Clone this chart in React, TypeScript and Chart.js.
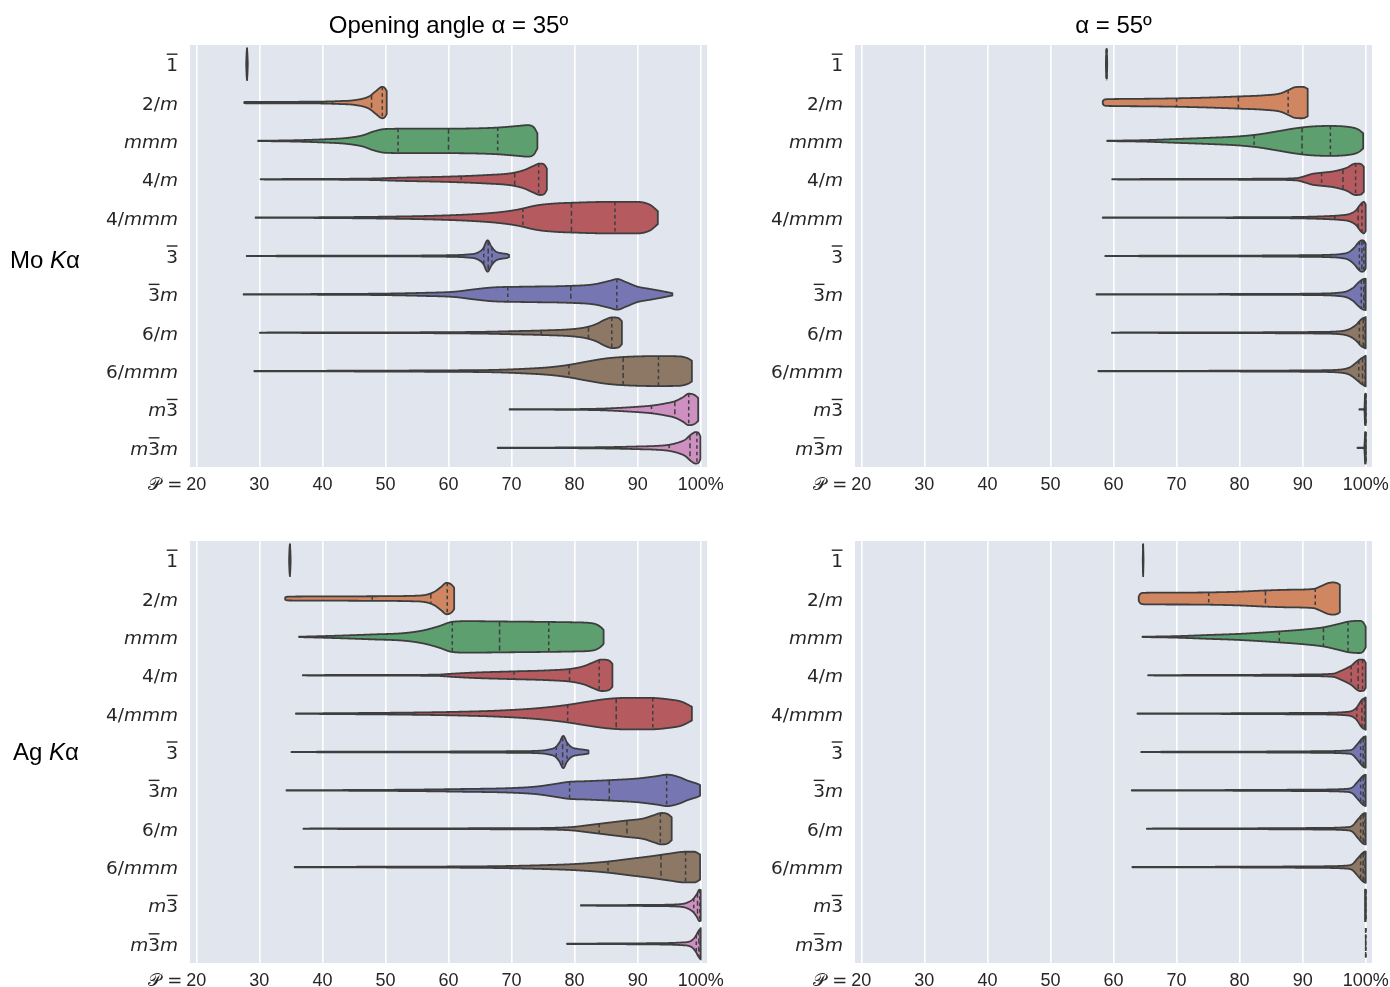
import React, { useEffect, useRef } from "react";
import { Chart, registerables } from "chart.js";

Chart.register(...registerables);

// ---------- data ----------
const CATEGORIES = ["1\u0305", "2/m", "mmm", "4/m", "4/mmm", "3\u0305", "3\u0305m", "6/m", "6/mmm", "m3\u0305", "m3\u0305m"];
const X_TICKS = [20, 30, 40, 50, 60, 70, 80, 90, 100];
const X_TICK_LABELS = ["20", "30", "40", "50", "60", "70", "80", "90", "100%"];
const X_PREFIX = "\u{1D4AB} =";
const X_MIN = 19;
const X_MAX = 101;
const COLUMN_TITLES = ["Opening angle \u03b1 = 35\u00ba", "\u03b1 = 55\u00ba"];
const ROW_LABELS = [["Mo ", "K", "\u03b1"], ["Ag ", "K", "\u03b1"]];

const FILLS = [
  "rgb(88,117,163)", "rgb(207,134,97)", "rgb(93,159,110)", "rgb(181,91,96)", "rgb(181,91,96)",
  "rgb(118,119,178)", "rgb(118,119,178)", "rgb(141,119,101)", "rgb(141,119,101)",
  "rgb(206,143,193)", "rgb(206,143,193)",
];

// violin outlines: [P value, half width in category units]
const MO35_PROFILES = [
  [[27.92, 0.05], [27.98, 0.3], [28.04, 0.42], [28.1, 0.3], [28.16, 0.05]],
  [[27.6, 0.01], [27.8, 0.02], [30, 0.02], [35, 0.02], [40, 0.025], [43, 0.04], [45, 0.06], [47.4, 0.16], [48.5, 0.3], [49.5, 0.41], [49.9, 0.38], [50.2, 0.3]],
  [[29.8, 0.005], [35, 0.015], [40, 0.04], [44, 0.08], [46.5, 0.15], [48, 0.24], [50, 0.31], [55, 0.32], [60, 0.32], [65, 0.33], [68, 0.35], [71, 0.39], [72.5, 0.41], [73.5, 0.36], [74.1, 0.2]],
  [[30.2, 0.005], [40, 0.01], [48, 0.02], [52, 0.04], [60, 0.07], [66, 0.11], [70, 0.16], [72, 0.24], [73.5, 0.35], [74.5, 0.41], [75.2, 0.38], [75.6, 0.28]],
  [[29.4, 0.005], [40, 0.01], [50, 0.025], [58, 0.05], [64, 0.09], [68, 0.14], [71, 0.21], [74, 0.32], [77, 0.37], [80, 0.39], [85, 0.41], [90, 0.41], [92, 0.33], [93.2, 0.17]],
  [[28.0, 0.005], [50, 0.01], [60, 0.02], [63, 0.04], [64.5, 0.08], [65.5, 0.2], [66.2, 0.41], [66.8, 0.25], [67.5, 0.12], [68.5, 0.07], [69.3, 0.05], [69.6, 0.03]],
  [[27.5, 0.005], [40, 0.01], [50, 0.02], [56, 0.04], [61, 0.07], [64, 0.13], [67, 0.18], [72, 0.2], [79, 0.22], [83, 0.26], [85.5, 0.35], [86.8, 0.4], [88, 0.33], [90, 0.2], [92, 0.14], [94, 0.08], [95.5, 0.03]],
  [[30.1, 0.005], [50, 0.01], [60, 0.015], [66, 0.025], [70, 0.04], [75, 0.06], [80, 0.1], [82, 0.15], [83.5, 0.23], [84.8, 0.34], [86, 0.4], [87, 0.38], [87.5, 0.3]],
  [[29.2, 0.005], [45, 0.01], [60, 0.02], [67, 0.03], [72, 0.06], [76, 0.1], [79, 0.16], [82, 0.25], [85, 0.33], [88, 0.37], [93, 0.39], [96.5, 0.385], [98, 0.33], [98.6, 0.27]],
  [[69.7, 0.005], [80, 0.01], [84, 0.02], [87, 0.04], [90, 0.07], [92.2, 0.1], [94.5, 0.16], [96, 0.22], [97.2, 0.32], [98.1, 0.41], [99, 0.38], [99.6, 0.3]],
  [[67.8, 0.005], [80, 0.01], [86, 0.02], [90, 0.035], [93, 0.05], [95, 0.08], [96.5, 0.14], [97.5, 0.21], [98.5, 0.35], [99.2, 0.41], [99.7, 0.38], [99.95, 0.3]],
];
const MO35_QUARTILES = [
  [28.02, 28.04, 28.06], [41.6, 47.8, 49.5], [52.0, 60.0, 67.8], [62.0, 70.5, 74.3], [71.8, 79.5, 86.4], [65.6, 66.3, 66.9],
  [69.4, 79.4, 86.7], [74.7, 82.2, 85.9], [79.1, 87.7, 93.3], [92.2, 95.9, 98.1], [95.0, 98.3, 99.4],
];

const MO55_PROFILES = [
  [[58.8, 0.05], [58.85, 0.3], [58.9, 0.42], [58.95, 0.3], [59.0, 0.05]],
  [[58.3, 0.04], [58.6, 0.08], [59.5, 0.09], [62, 0.095], [66, 0.1], [70, 0.11], [75, 0.13], [80, 0.16], [84, 0.19], [86.5, 0.24], [87.8, 0.33], [88.8, 0.4], [90, 0.41], [90.8, 0.36]],
  [[59.0, 0.005], [65, 0.02], [70, 0.05], [75, 0.08], [80, 0.12], [83, 0.17], [86, 0.25], [88.5, 0.32], [91, 0.37], [94, 0.39], [97, 0.37], [98.8, 0.3], [99.6, 0.2]],
  [[59.8, 0.005], [75, 0.01], [85, 0.015], [89, 0.03], [90.5, 0.09], [91.5, 0.14], [93, 0.17], [95, 0.21], [97, 0.3], [98.4, 0.41], [99.2, 0.4], [99.7, 0.33]],
  [[58.3, 0.005], [80, 0.01], [90, 0.02], [94, 0.04], [96, 0.06], [97.5, 0.1], [98.5, 0.2], [99.2, 0.35], [99.7, 0.41], [100, 0.35]],
  [[58.7, 0.005], [80, 0.01], [90, 0.02], [94, 0.03], [96, 0.05], [97.3, 0.1], [98.2, 0.22], [98.9, 0.36], [99.4, 0.41], [99.8, 0.38], [100, 0.32]],
  [[57.3, 0.005], [80, 0.01], [92, 0.02], [95.5, 0.04], [97, 0.08], [98, 0.17], [98.8, 0.3], [99.5, 0.39], [100, 0.41]],
  [[59.75, 0.005], [80, 0.01], [92, 0.02], [96, 0.04], [97.5, 0.1], [98.5, 0.21], [99.3, 0.35], [100, 0.41]],
  [[57.6, 0.005], [80, 0.01], [92, 0.02], [96, 0.04], [97.5, 0.1], [98.5, 0.22], [99.3, 0.33], [100, 0.4]],
  [[99.0, 0.005], [99.8, 0.005], [99.9, 0.41], [100, 0.41]],
  [[98.7, 0.005], [99.8, 0.005], [99.9, 0.41], [100, 0.41]],
];
const MO55_QUARTILES = [
  [58.88, 58.9, 58.92], [70.0, 79.8, 87.7], [82.3, 89.9, 94.4], [93.0, 96.4, 98.4], [95.1, 98.8, 99.4], [99.0, 99.4, 99.7],
  [99.3, 99.7, 99.9], [99.0, 99.6, 99.9], [98.9, 99.5, 99.9], [100, 100, 100], [100, 100, 100],
];

const AG35_PROFILES = [
  [[34.72, 0.05], [34.78, 0.3], [34.84, 0.42], [34.9, 0.3], [34.96, 0.05]],
  [[34.1, 0.03], [34.5, 0.05], [40, 0.055], [48, 0.06], [54, 0.07], [56.5, 0.1], [57.8, 0.18], [58.8, 0.3], [59.7, 0.41], [60.5, 0.36], [60.9, 0.28]],
  [[36.3, 0.005], [42, 0.03], [48, 0.065], [53, 0.1], [56, 0.17], [58.5, 0.28], [60.5, 0.39], [63, 0.41], [70, 0.4], [76, 0.39], [80, 0.38], [83, 0.35], [84.2, 0.25], [84.6, 0.18]],
  [[36.9, 0.005], [50, 0.01], [58, 0.015], [60.5, 0.04], [64, 0.07], [70, 0.1], [76, 0.13], [79.5, 0.17], [81.5, 0.24], [83, 0.34], [84.3, 0.41], [85.5, 0.38], [86.0, 0.3]],
  [[35.8, 0.005], [45, 0.015], [55, 0.03], [62, 0.05], [68, 0.08], [74, 0.14], [78.5, 0.22], [82, 0.31], [85, 0.38], [88, 0.41], [92, 0.41], [95, 0.37], [97, 0.31], [98.6, 0.18]],
  [[35.1, 0.005], [55, 0.01], [70, 0.02], [74, 0.03], [75.8, 0.06], [77, 0.13], [77.6, 0.25], [78.2, 0.42], [78.8, 0.25], [79.5, 0.13], [80.5, 0.08], [81.5, 0.06], [82.2, 0.04]],
  [[34.3, 0.005], [45, 0.01], [55, 0.02], [62, 0.035], [70, 0.06], [74, 0.1], [77, 0.17], [79, 0.22], [82, 0.24], [86, 0.27], [90, 0.31], [93, 0.37], [94.7, 0.41], [96.5, 0.35], [98, 0.25], [99.5, 0.17], [99.9, 0.14]],
  [[37.0, 0.005], [55, 0.01], [70, 0.015], [77, 0.025], [80, 0.05], [82, 0.09], [84, 0.13], [88, 0.21], [91, 0.27], [92.5, 0.35], [93.8, 0.41], [94.8, 0.38], [95.4, 0.3]],
  [[35.6, 0.005], [50, 0.01], [60, 0.015], [68, 0.025], [75, 0.05], [80, 0.08], [85, 0.14], [89, 0.22], [92, 0.28], [95, 0.35], [97.5, 0.4], [99, 0.4], [99.9, 0.33]],
  [[81.0, 0.005], [92, 0.015], [96.5, 0.03], [97.8, 0.07], [98.8, 0.17], [99.4, 0.3], [99.8, 0.41], [100, 0.4]],
  [[78.8, 0.005], [92, 0.015], [97, 0.035], [98.5, 0.08], [99.2, 0.2], [99.6, 0.32], [100, 0.41]],
];
const AG35_QUARTILES = [
  [34.82, 34.84, 34.86], [47.9, 57.2, 59.8], [60.6, 68.1, 75.9], [70.4, 79.2, 83.9], [78.9, 86.6, 92.4], [77.1, 78.1, 78.8],
  [79.2, 85.5, 94.6], [83.9, 88.3, 93.6], [85.3, 93.7, 97.6], [98.9, 99.5, 99.85], [99.3, 99.7, 99.9],
];

const AG55_PROFILES = [
  [[64.64, 0.05], [64.67, 0.3], [64.7, 0.42], [64.73, 0.3], [64.76, 0.05]],
  [[64.0, 0.06], [64.3, 0.13], [65, 0.15], [70, 0.155], [75, 0.16], [80, 0.18], [84, 0.21], [88, 0.23], [91.7, 0.25], [93, 0.33], [94, 0.4], [94.8, 0.42], [95.5, 0.4], [95.9, 0.36]],
  [[64.6, 0.005], [70, 0.02], [75, 0.05], [80, 0.08], [86, 0.14], [90, 0.19], [93.3, 0.25], [95.5, 0.33], [97.3, 0.4], [99, 0.42], [99.6, 0.38], [100, 0.27]],
  [[65.5, 0.005], [80, 0.01], [90, 0.02], [94.8, 0.04], [96, 0.11], [97.6, 0.24], [99.1, 0.41], [99.7, 0.4], [100, 0.33]],
  [[63.8, 0.005], [80, 0.01], [92, 0.02], [97.3, 0.05], [98.5, 0.15], [99.4, 0.36], [100, 0.42]],
  [[64.4, 0.005], [80, 0.01], [92, 0.02], [97, 0.04], [97.9, 0.07], [98.8, 0.23], [99.6, 0.38], [100, 0.41]],
  [[62.9, 0.005], [80, 0.01], [92, 0.02], [97, 0.04], [97.9, 0.08], [98.8, 0.24], [99.6, 0.38], [100, 0.41]],
  [[65.3, 0.005], [80, 0.01], [92, 0.02], [97, 0.04], [97.9, 0.08], [98.8, 0.25], [99.6, 0.39], [100, 0.41]],
  [[63.0, 0.005], [80, 0.01], [92, 0.02], [97, 0.04], [97.9, 0.08], [98.8, 0.24], [99.6, 0.38], [100, 0.41]],
  [[99.9, 0.41], [100, 0.41]],
  [[100, 0.41]],
];
const AG55_QUARTILES = [
  [64.7, 64.7, 64.7], [75.1, 84.1, 92.0], [86.3, 93.3, 97.2], [97.7, 98.8, 99.5], [98.6, 99.4, 99.8], [99.2, 99.6, 99.9],
  [99.2, 99.6, 99.9], [99.2, 99.6, 99.9], [99.2, 99.6, 99.9], [100, 100, 100], [100, 100, 100],
];

// ---------- styling ----------
const BG = "#e1e5ee";
const OUTLINE = "#3e3e3e";
const TEXT = "#262626";
const SANS = "'Liberation Sans', Arial, Helvetica, sans-serif";
const DEJAVU = "'DejaVu Sans', sans-serif";

type Pt = number[];

function makeInterp(pts: Pt[]) {
  const n = pts.length;
  if (n < 2) return () => (n ? pts[0][1] : 0);
  const xs = pts.map((p) => p[0]);
  const ys = pts.map((p) => p[1]);
  const d: number[] = [];
  for (let i = 0; i < n - 1; i++) d.push((ys[i + 1] - ys[i]) / (xs[i + 1] - xs[i]));
  const m: number[] = new Array(n).fill(0);
  m[0] = d[0];
  m[n - 1] = d[n - 2];
  for (let i = 1; i < n - 1; i++) m[i] = d[i - 1] * d[i] <= 0 ? 0 : (d[i - 1] + d[i]) / 2;
  for (let i = 0; i < n - 1; i++) {
    if (d[i] === 0) { m[i] = 0; m[i + 1] = 0; continue; }
    const a = m[i] / d[i], b = m[i + 1] / d[i];
    const s = a * a + b * b;
    if (s > 9) { const t = 3 / Math.sqrt(s); m[i] = t * a * d[i]; m[i + 1] = t * b * d[i]; }
  }
  return (x: number) => {
    if (x <= xs[0]) return ys[0];
    if (x >= xs[n - 1]) return ys[n - 1];
    let i = 0;
    while (i < n - 2 && x > xs[i + 1]) i++;
    const h = xs[i + 1] - xs[i];
    const t = (x - xs[i]) / h;
    const t2 = t * t, t3 = t2 * t;
    const v = (2 * t3 - 3 * t2 + 1) * ys[i] + (t3 - 2 * t2 + t) * h * m[i] + (-2 * t3 + 3 * t2) * ys[i + 1] + (t3 - t2) * h * m[i + 1];
    return Math.max(v, 0.003);
  };
}

function drawCategoryLabel(ctx: CanvasRenderingContext2D, label: string, xRight: number, yc: number) {
  const size = 18.5;
  const parts: { ch: string; italic: boolean; bar: boolean }[] = [];
  for (let i = 0; i < label.length; i++) {
    const ch = label[i];
    if (ch === "\u0305") continue;
    parts.push({ ch, italic: /[a-z]/.test(ch), bar: label[i + 1] === "\u0305" });
  }
  const widths = parts.map((p) => {
    ctx.font = `${p.italic ? "italic " : ""}${size}px ${DEJAVU}`;
    return ctx.measureText(p.ch).width;
  });
  let x = xRight - widths.reduce((a, b) => a + b, 0);
  const base = yc + 7;
  ctx.fillStyle = TEXT;
  ctx.textAlign = "left";
  ctx.textBaseline = "alphabetic";
  parts.forEach((p, k) => {
    ctx.font = `${p.italic ? "italic " : ""}${size}px ${DEJAVU}`;
    ctx.fillText(p.ch, x, base);
    if (p.bar) {
      ctx.beginPath();
      ctx.strokeStyle = TEXT;
      ctx.lineWidth = 1.4;
      ctx.moveTo(x + 0.5, base - 17);
      ctx.lineTo(x + widths[k] - 0.5, base - 17);
      ctx.stroke();
    }
    x += widths[k];
  });
}

function makeChart(canvas: HTMLCanvasElement, profiles: Pt[][], quartiles: number[][], pad: any, axisH: number) {
  const bgPlugin = {
    id: "bg",
    beforeDraw(chart: any) {
      const { ctx, chartArea: a } = chart;
      ctx.save();
      ctx.fillStyle = BG;
      ctx.fillRect(a.left, a.top, a.right - a.left, a.bottom - a.top);
      ctx.restore();
    },
  };
  const violinPlugin = {
    id: "violins",
    afterDatasetsDraw(chart: any) {
      const { ctx, chartArea: a } = chart;
      const xs = chart.scales.x, ys = chart.scales.y;
      const band = Math.abs(ys.getPixelForValue(1) - ys.getPixelForValue(0));
      ctx.save();
      ctx.beginPath();
      ctx.rect(a.left, a.top, a.right - a.left, a.bottom - a.top);
      ctx.clip();
      profiles.forEach((prof, i) => {
        const yc = ys.getPixelForValue(i);
        const f = makeInterp(prof);
        if (prof.length >= 2) {
          const p0 = xs.getPixelForValue(prof[0][0]);
          const p1 = xs.getPixelForValue(prof[prof.length - 1][0]);
          const px: number[] = [];
          for (let p = p0; p < p1; p += 0.4) px.push(p);
          px.push(p1);
          const hw = px.map((p) => f(xs.getValueForPixel(p)) * band);
          ctx.beginPath();
          px.forEach((p, k) => (k ? ctx.lineTo(p, yc - hw[k]) : ctx.moveTo(p, yc - hw[k])));
          for (let k = px.length - 1; k >= 0; k--) ctx.lineTo(px[k], yc + hw[k]);
          ctx.closePath();
          ctx.fillStyle = FILLS[i];
          ctx.fill();
          ctx.lineWidth = 1.8;
          ctx.lineJoin = "round";
          ctx.strokeStyle = OUTLINE;
          ctx.stroke();
        }
        quartiles[i].forEach((q, k) => {
          const h = f(q) * band;
          const qx = xs.getPixelForValue(q);
          ctx.beginPath();
          ctx.setLineDash(k === 1 ? [5, 3] : [3.5, 3]);
          ctx.lineWidth = 1.5;
          ctx.strokeStyle = OUTLINE;
          ctx.moveTo(qx, yc - h);
          ctx.lineTo(qx, yc + h);
          ctx.stroke();
          ctx.setLineDash([]);
        });
      });
      ctx.restore();
    },
  };
  const labelPlugin = {
    id: "labels",
    afterDraw(chart: any) {
      const { ctx, chartArea: a } = chart;
      const xs = chart.scales.x, ys = chart.scales.y;
      ctx.save();
      CATEGORIES.forEach((c, i) => drawCategoryLabel(ctx, c, a.left - 12, ys.getPixelForValue(i)));
      // prefix of the first x tick label
      ctx.font = `18px ${SANS}`;
      const w20 = ctx.measureText(X_TICK_LABELS[0]).width;
      ctx.textAlign = "right";
      ctx.textBaseline = "middle";
      ctx.fillStyle = TEXT;
      ctx.font = `18px ${DEJAVU}`;
      ctx.fillText(X_PREFIX, xs.getPixelForValue(X_TICKS[0]) - w20 / 2 - 4, a.bottom + 18);
      ctx.restore();
    },
  };

  return new Chart(canvas, {
    type: "scatter",
    data: { datasets: [] },
    options: {
      animation: false,
      responsive: false,
      maintainAspectRatio: false,
      events: [],
      layout: { padding: pad },
      plugins: { legend: { display: false }, tooltip: { enabled: false }, title: { display: false } },
      scales: {
        x: {
          type: "linear",
          min: X_MIN,
          max: X_MAX,
          afterBuildTicks: (s: any) => { s.ticks = X_TICKS.map((v) => ({ value: v })); },
          afterFit: (s: any) => { s.height = axisH; s.paddingLeft = 0; s.paddingRight = 0; },
          grid: { color: "#ffffff", lineWidth: 1.6, drawTicks: false },
          border: { display: false },
          ticks: {
            autoSkip: false,
            maxRotation: 0,
            padding: 7,
            color: TEXT,
            font: { family: SANS, size: 18 },
            callback: (_v: any, idx: number) => X_TICK_LABELS[idx],
          },
        },
        y: { type: "linear", min: -0.5, max: 10.5, reverse: true, display: false },
      },
    },
    plugins: [bgPlugin, violinPlugin, labelPlugin],
  } as any);
}

const PANELS = [
  { key: "mo35", left: 0, top: 36, width: 730, height: 484, pad: { left: 190, right: 23, top: 9, bottom: 0 }, axisH: 53, profiles: MO35_PROFILES, quartiles: MO35_QUARTILES },
  { key: "mo55", left: 730, top: 36, width: 660, height: 484, pad: { left: 125, right: 18, top: 9, bottom: 0 }, axisH: 53, profiles: MO55_PROFILES, quartiles: MO55_QUARTILES },
  { key: "ag35", left: 0, top: 532, width: 730, height: 455, pad: { left: 190, right: 23, top: 9, bottom: 0 }, axisH: 24, profiles: AG35_PROFILES, quartiles: AG35_QUARTILES },
  { key: "ag55", left: 730, top: 532, width: 660, height: 455, pad: { left: 125, right: 18, top: 9, bottom: 0 }, axisH: 24, profiles: AG55_PROFILES, quartiles: AG55_QUARTILES },
];

function Panel(props: any) {
  const ref = useRef<HTMLCanvasElement | null>(null);
  useEffect(() => {
    if (!ref.current) return;
    const chart = makeChart(ref.current, props.profiles, props.quartiles, props.pad, props.axisH);
    return () => chart.destroy();
  }, []);
  return (
    <canvas
      ref={ref}
      width={props.width}
      height={props.height}
      style={{ position: "absolute", left: props.left, top: props.top, width: props.width, height: props.height }}
    />
  );
}

export default function App() {
  const titleStyle: any = { position: "absolute", top: 11, fontFamily: SANS, fontSize: 24, lineHeight: "28px", color: "#000", textAlign: "center", whiteSpace: "nowrap" };
  const rowStyle: any = { position: "absolute", fontFamily: SANS, fontSize: 24, lineHeight: "28px", color: "#000", whiteSpace: "nowrap" };
  return (
    <div style={{ position: "absolute", left: 0, top: 0, width: 1390, height: 987, overflow: "hidden", background: "#fff" }}>
      {PANELS.map((p) => (
        <Panel key={p.key} {...p} />
      ))}
      <div style={{ ...titleStyle, left: 190, width: 517 }}>{COLUMN_TITLES[0]}</div>
      <div style={{ ...titleStyle, left: 855, width: 517 }}>{COLUMN_TITLES[1]}</div>
      <div style={{ ...rowStyle, left: 10, top: 246 }}>
        {ROW_LABELS[0][0]}<i>{ROW_LABELS[0][1]}</i>{ROW_LABELS[0][2]}
      </div>
      <div style={{ ...rowStyle, left: 13, top: 738 }}>
        {ROW_LABELS[1][0]}<i>{ROW_LABELS[1][1]}</i>{ROW_LABELS[1][2]}
      </div>
    </div>
  );
}
